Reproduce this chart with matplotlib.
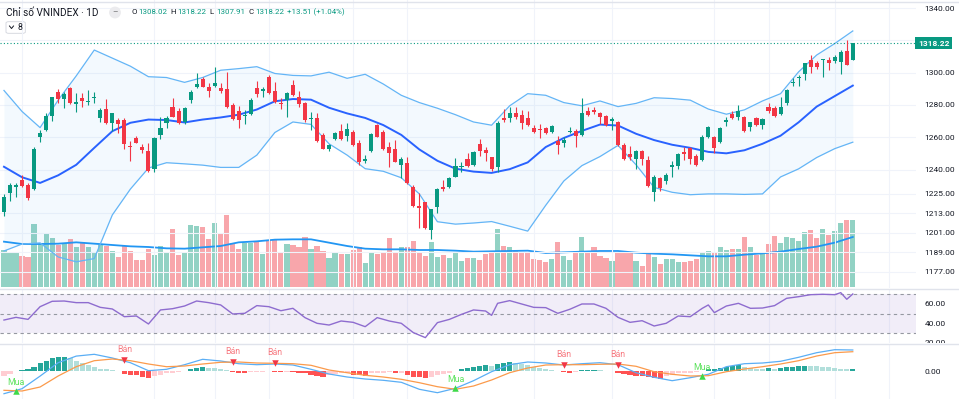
import matplotlib
matplotlib.use("Agg")
import matplotlib.pyplot as plt
from matplotlib.lines import Line2D
from matplotlib.patches import FancyBboxPatch
from matplotlib.transforms import Bbox, TransformedBbox

plt.rcParams['font.family'] = ['Roboto', 'DejaVu Sans']

# ---- du lieu doc tu bieu do (142 phien) ----
opens = [1214.0, 1225.4, 1229.4, 1233.6, 1230.5, 1227.9, 1260.0, 1264.6, 1273.4, 1288.3,
         1283.9, 1290.5, 1280.6, 1284.6, 1281.9, 1284.5, 1272.2, 1277.3, 1269.1, 1270.7,
         1270.7, 1254.9, 1259.4, 1254.3, 1251.8, 1240.2, 1261.7, 1268.7, 1279.0, 1276.3,
         1269.3, 1283.1, 1290.9, 1295.9, 1290.9, 1291.8, 1290.7, 1289.7, 1280.0, 1276.5,
         1273.2, 1274.5, 1290.7, 1288.5, 1297.5, 1288.5, 1281.0, 1283.1, 1292.4, 1285.2,
         1281.0, 1271.4, 1271.8, 1261.5, 1253.0, 1258.8, 1264.1, 1260.8, 1263.3, 1256.7,
         1245.2, 1251.8, 1267.4, 1263.5, 1254.3, 1252.6, 1242.9, 1243.9, 1229.5, 1217.5,
         1220.0, 1202.7, 1216.7, 1229.1, 1229.1, 1235.7, 1241.9, 1246.4, 1242.7, 1255.9,
         1252.2, 1247.6, 1241.9, 1271.8, 1272.2, 1275.3, 1273.8, 1271.8, 1266.0, 1265.2,
         1265.8, 1263.3, 1258.0, 1256.3, 1263.1, 1263.9, 1261.5, 1276.5, 1276.9, 1274.9,
         1273.2, 1270.3, 1269.7, 1255.5, 1249.7, 1246.4, 1251.4, 1246.0, 1226.4, 1234.9,
         1233.2, 1241.9, 1242.3, 1250.9, 1253.6, 1248.5, 1246.0, 1260.0, 1260.0, 1257.3,
         1269.5, 1274.4, 1272.8, 1272.8, 1266.2, 1271.8, 1267.6, 1278.6, 1277.9, 1274.4,
         1281.0, 1293.4, 1296.5, 1299.2, 1307.8, 1306.2, 1307.8, 1307.8, 1307.4, 1306.8,
         1313.6, 1308.02]
highs = [1225.0, 1232.0, 1232.0, 1236.5, 1231.6, 1253.8, 1264.6, 1274.9, 1285.2, 1289.7,
         1288.3, 1290.9, 1287.2, 1287.2, 1289.3, 1288.3, 1277.9, 1283.5, 1275.3, 1271.8,
         1271.8, 1257.5, 1260.8, 1255.9, 1256.3, 1260.0, 1272.8, 1273.2, 1284.1, 1277.9,
         1279.0, 1289.3, 1299.6, 1297.5, 1293.4, 1303.3, 1293.4, 1300.4, 1281.0, 1279.4,
         1276.9, 1284.1, 1295.1, 1290.9, 1298.6, 1294.4, 1284.1, 1288.3, 1295.5, 1288.9,
         1282.1, 1275.9, 1274.9, 1262.5, 1255.9, 1263.5, 1268.3, 1268.7, 1264.6, 1258.4,
         1249.1, 1262.5, 1268.3, 1264.6, 1257.3, 1258.4, 1247.6, 1247.6, 1230.5, 1225.4,
         1220.2, 1215.9, 1228.5, 1233.6, 1235.7, 1247.0, 1244.9, 1250.5, 1251.8, 1258.8,
         1254.3, 1248.1, 1270.3, 1277.3, 1278.6, 1278.6, 1276.9, 1276.5, 1267.6, 1268.3,
         1266.2, 1267.4, 1260.8, 1260.0, 1266.2, 1264.9, 1284.1, 1278.6, 1278.6, 1275.9,
         1273.6, 1272.8, 1270.3, 1256.3, 1254.7, 1252.2, 1252.2, 1248.5, 1236.7, 1235.7,
         1237.8, 1245.6, 1250.1, 1253.8, 1254.3, 1249.7, 1261.5, 1267.0, 1260.8, 1266.2,
         1272.8, 1276.5, 1280.0, 1273.2, 1269.7, 1272.4, 1271.8, 1281.5, 1279.4, 1284.8,
         1289.7, 1296.7, 1298.6, 1306.2, 1310.9, 1307.4, 1308.5, 1309.9, 1310.9, 1314.0,
         1320.2, 1318.22]
lows = [1211.6, 1220.8, 1222.9, 1229.5, 1221.3, 1227.4, 1257.3, 1264.1, 1270.3, 1281.5,
        1277.9, 1280.6, 1275.7, 1279.0, 1280.0, 1281.5, 1269.7, 1268.3, 1264.1, 1262.9,
        1252.6, 1245.4, 1256.3, 1250.1, 1238.8, 1238.8, 1258.8, 1266.0, 1272.4, 1268.3,
        1268.3, 1281.5, 1290.3, 1290.9, 1285.2, 1291.3, 1287.2, 1277.9, 1270.7, 1265.6,
        1268.3, 1273.8, 1285.2, 1285.2, 1286.8, 1281.5, 1277.3, 1272.8, 1285.6, 1279.0,
        1269.7, 1264.6, 1257.3, 1252.6, 1251.8, 1258.4, 1258.4, 1258.0, 1254.7, 1242.9,
        1244.4, 1251.2, 1260.0, 1252.2, 1241.9, 1244.6, 1234.7, 1231.2, 1217.1, 1203.7,
        1203.3, 1196.9, 1213.4, 1226.6, 1228.7, 1235.3, 1238.8, 1241.9, 1242.3, 1248.5,
        1245.4, 1239.4, 1238.8, 1269.7, 1269.7, 1271.1, 1265.4, 1267.0, 1262.5, 1259.4,
        1262.1, 1262.9, 1249.7, 1254.3, 1262.5, 1254.3, 1260.8, 1273.2, 1274.4, 1268.3,
        1267.0, 1264.6, 1254.9, 1246.0, 1246.0, 1240.2, 1242.9, 1229.5, 1220.8, 1227.0,
        1231.2, 1235.7, 1240.2, 1246.0, 1243.5, 1242.3, 1245.6, 1259.4, 1250.5, 1256.7,
        1267.0, 1271.2, 1270.7, 1263.5, 1264.1, 1267.0, 1265.0, 1275.3, 1272.8, 1273.8,
        1280.0, 1291.8, 1291.8, 1295.5, 1299.6, 1302.1, 1297.5, 1301.7, 1305.8, 1299.2,
        1304.7, 1307.91]
closes = [1223.3, 1230.5, 1230.3, 1229.9, 1222.7, 1252.6, 1262.5, 1273.2, 1284.8, 1283.5,
          1286.8, 1281.0, 1281.9, 1282.5, 1282.7, 1285.2, 1276.9, 1269.1, 1274.9, 1268.3,
          1255.7, 1253.8, 1256.7, 1252.2, 1239.4, 1259.8, 1266.0, 1272.2, 1272.8, 1269.1,
          1277.9, 1288.3, 1292.8, 1291.3, 1288.9, 1293.4, 1288.4, 1279.0, 1271.1, 1270.7,
          1274.0, 1283.1, 1286.8, 1289.7, 1287.2, 1282.1, 1280.6, 1287.6, 1286.2, 1280.6,
          1270.7, 1272.2, 1258.0, 1253.0, 1255.5, 1262.9, 1259.2, 1265.4, 1255.3, 1245.0,
          1246.4, 1262.1, 1260.4, 1252.8, 1250.5, 1245.0, 1246.4, 1231.6, 1217.5, 1216.1,
          1203.7, 1215.5, 1227.9, 1228.3, 1235.0, 1242.3, 1242.5, 1242.3, 1250.9, 1251.8,
          1250.5, 1240.2, 1268.7, 1270.7, 1275.3, 1272.8, 1269.1, 1267.6, 1263.3, 1264.6,
          1262.5, 1267.0, 1255.3, 1258.4, 1263.7, 1260.8, 1274.9, 1273.8, 1275.9, 1272.8,
          1267.6, 1271.1, 1255.3, 1246.4, 1247.6, 1251.8, 1246.4, 1229.9, 1235.7, 1228.5,
          1236.5, 1242.7, 1249.7, 1249.7, 1246.4, 1242.9, 1260.4, 1266.2, 1253.2, 1265.6,
          1270.7, 1272.0, 1276.5, 1264.1, 1269.3, 1267.6, 1271.1, 1276.5, 1273.4, 1279.0,
          1289.3, 1294.2, 1297.5, 1305.8, 1303.7, 1303.7, 1308.5, 1306.2, 1309.9, 1313.0,
          1304.71, 1318.22]
# khoi luong (trieu cp)
volumes = [550, 510, 500, 460, 450, 940, 650, 790, 725, 625,
           650, 710, 600, 650, 590, 525, 625, 610, 530, 450,
           610, 540, 400, 400, 565, 475, 610, 500, 865, 475,
           510, 930, 910, 900, 710, 950, 790, 1070, 650, 560,
           660, 660, 690, 490, 700, 710, 510, 640, 625, 590,
           750, 560, 610, 540, 425, 510, 490, 490, 550, 600,
           350, 525, 490, 525, 725, 525, 600, 590, 690, 525,
           460, 675, 450, 475, 425, 525, 385, 435, 425, 400,
           490, 510, 860, 610, 600, 535, 525, 500, 410, 400,
           375, 410, 675, 460, 400, 540, 740, 510, 600, 460,
           425, 390, 525, 535, 510, 385, 310, 490, 450, 340,
           410, 420, 375, 375, 390, 420, 520, 540, 525, 600,
           550, 560, 560, 750, 590, 475, 490, 635, 760, 650,
           750, 735, 690, 825, 850, 735, 860, 775, 830, 950,
           1000, 1000]
macd_hist = [-2.33, -1.33, 0.33, 0.67, 1.0, 2.33, 4.0, 5.33, 6.5, 7.0,
             7.17, 6.5, 5.33, 4.33, 3.17, 2.0, 1.33, 1.0, 0.5, 0.17,
             -1.33, -1.67, -2.0, -2.67, -3.5, -2.33, -1.67, -1.0, -0.67, -0.33,
             0.17, 1.0, 1.67, 2.0, 1.83, 1.67, 1.33, 0.67, -0.5, -0.67,
             -1.0, -0.5, -0.33, -0.17, 0.33, -0.33, -0.5, -0.17, -0.33, -0.67,
             -0.83, -1.67, -2.33, -2.83, -2.0, -1.33, -1.0, -0.83, -1.83, -2.0,
             -2.17, -1.0, -0.83, -0.67, -0.5, -1.0, -0.67, -1.83, -2.67, -3.0,
             -3.5, -2.67, -2.0, -1.33, -0.67, 0.33, 1.0, 1.5, 2.0, 2.83,
             3.17, 2.67, 3.67, 4.0, 4.5, 4.33, 3.67, 3.17, 2.33, 1.5,
             1.0, 0.5, 0.17, -0.5, -0.67, -0.33, 0.5, 0.67, 0.83, 0.5,
             0.33, 0.17, -0.67, -1.33, -1.83, -2.17, -2.33, -3.0, -3.5, -3.83,
             -2.33, -1.67, -1.0, -0.83, -0.67, -0.33, 0.33, 1.0, 1.33, 1.67,
             2.0, 2.5, 3.0, 2.33, 1.67, 1.33, 1.17, 1.5, 1.17, 1.5,
             2.0, 2.33, 2.67, 2.83, 2.67, 2.5, 2.33, 2.0, 1.67, 1.33,
             1.0, 1.33]

# cac duong chi bao, doc moi 3 phien
band_idx = list(range(0, 142, 3))
bb_upper = [1289, 1276, 1266, 1283, 1298, 1314, 1309, 1304, 1297.5, 1297,
            1294, 1297, 1301.5, 1302.5, 1303.7, 1299.5, 1298.3, 1298, 1300.3, 1296.5,
            1299, 1293, 1286, 1281.5, 1278, 1274, 1269.5, 1267.5, 1279.5, 1287,
            1286, 1281.5, 1279.5, 1282.5, 1279, 1281, 1284.5, 1284, 1283, 1277.5,
            1274.3, 1277, 1282.5, 1287, 1300.5, 1310.9, 1318, 1325.8]
bb_mid = [1241.8, 1235.3, 1231.8, 1236.5, 1243, 1253.5, 1263.8, 1269, 1271, 1270.7,
          1269.2, 1271, 1272.3, 1274, 1277.2, 1282.3, 1283.7, 1283.3, 1278.3, 1274.8,
          1272, 1267.6, 1261.5, 1252.5, 1245.5, 1240.6, 1238.8, 1238, 1240.3, 1244.5,
          1254, 1259.6, 1264, 1267.9, 1267.3, 1262.2, 1258.3, 1255.4, 1253.5, 1251,
          1250.1, 1252, 1256, 1261, 1269.3, 1279, 1285.5, 1292]
bb_lower = [1189.7, 1194, 1194.7, 1186, 1183, 1185, 1212, 1228, 1241, 1244.3,
            1243.6, 1242.8, 1241.4, 1241.4, 1249, 1263, 1269.5, 1268, 1256, 1249,
            1240.6, 1239, 1235, 1225, 1207.8, 1206.3, 1207, 1207.9, 1205, 1202,
            1218, 1233, 1242.5, 1248.1, 1255, 1243, 1229, 1226, 1224.5, 1225,
            1225, 1224.7, 1225, 1235.5, 1240.5, 1247.5, 1253, 1257]
vol_ma = [675, 640, 640, 645, 665, 645, 625, 605, 595, 575,
          570, 590, 610, 665, 680, 705, 710, 710, 660, 610,
          570, 560, 560, 550, 550, 540, 525, 530, 535, 540,
          505, 515, 525, 535, 535, 510, 495, 485, 470, 455,
          455, 480, 500, 525, 565, 600, 660, 745]
macd_line = [-11.2, -8.7, -2.4, 4.3, 7.6, 8.5, 6.65, 4.3, 0.3, 1.0,
             3.3, 6.0, 5.15, 3.8, 3.3, 3.65, 3.15, 1.0, -1.35, -2.85,
             -3.85, -4.5, -5.5, -9.0, -10.7, -8.5, -4.7, -0.2, 3.3, 4.65,
             4.15, 3.15, 3.8, 4.3, 3.3, -0.7, -3.0, -4.7, -3.2, -1.5,
             2.3, 3.8, 4.15, 5.0, 7.0, 9.3, 10.8, 10.65]
signal_line = [-9.5, -9.85, -7.85, -2.35, 2.3, 5.3, 6.15, 5.3, 3.65, 2.3,
               2.65, 3.65, 4.5, 4.65, 4.15, 4.0, 3.8, 3.0, 0.65, -0.7,
               -2.0, -2.85, -4.0, -5.7, -7.7, -9.0, -7.35, -4.35, -0.7, 1.65,
               3.15, 3.3, 3.3, 3.5, 3.65, 2.5, -0.2, -1.5, -2.35, -2.2,
               -0.2, 1.15, 2.3, 3.65, 5.3, 7.65, 9.3, 9.8]

rsi_idx = [0, 2, 4, 6, 8, 10, 12, 14, 16, 18, 20, 22, 24, 26, 28, 30, 32, 34, 36, 38,
           40, 42, 44, 46, 48, 50, 52, 54, 56, 58, 60, 62, 64, 66, 68, 70, 72, 74, 76, 78,
           80, 81, 82, 84, 86, 88, 90, 92, 94, 96, 98, 100, 102, 104, 106, 108, 110, 112,
           114, 116, 117, 118, 120, 122, 124, 126, 128, 130, 132, 134, 136, 138, 139, 140, 141]
rsi_vals = [43.3, 46.1, 44.0, 57.2, 62.8, 63.1, 61.4, 61.4, 56.5, 54.8, 46.8, 47.5, 39.2,
            53.8, 55.1, 57.9, 63.1, 61.4, 59.0, 49.6, 50.3, 58.3, 57.2, 53.0, 55.5, 45.8,
            39.9, 38.1, 42.3, 40.9, 36.4, 45.8, 42.3, 39.9, 30.2, 25.0, 40.6, 44.0, 49.2,
            53.8, 52.7, 48.2, 60.7, 63.5, 60.0, 56.5, 56.2, 50.3, 54.5, 60.0, 60.0, 55.5,
            46.1, 40.9, 42.6, 37.1, 39.9, 47.5, 46.8, 55.5, 59.0, 51.0, 57.9, 60.7, 55.5,
            55.8, 58.3, 65.9, 67.6, 69.7, 70.1, 69.7, 71.8, 64.9, 70.4]

sell_idx = [20, 38, 45, 93, 102]
sell_vals = [5.65, 4.8, 4.0, 3.15, 3.15]
buy_idx = [2, 75, 116]
buy_vals = [-9.7, -8.5, -2.2]

month_starts = [3, 25, 35, 44, 58, 67, 88, 101, 118, 127, 138, 147]
price_ticks = [1177, 1189, 1201, 1213, 1225, 1240, 1260, 1280, 1300, 1340]
grid_levels = price_ticks + [1320]
last_price = closes[-1]

# ---- mau ----
UP, DOWN = '#089981', '#f23645'
VOL_UP, VOL_DOWN = '#92d2c4', '#f8a6ab'
GRID = '#f0f3fa'
TXT = '#131722'

W, H = 959, 399
def fx(px):
    return px / W
def fy(py):
    return 1 - py / H

fig = plt.figure(figsize=(W / 100, H / 100), dpi=100)
ax = fig.add_axes([0, fy(288), fx(916), 288 / H])
ax_rsi = fig.add_axes([0, fy(343), fx(916), 54 / H])
ax_macd = fig.add_axes([0, 0, fx(916), 55 / H])
ax_vol = ax.twinx()
ax.set_zorder(ax_vol.get_zorder() + 1)
ax.patch.set_visible(False)

n = len(closes)
idx = list(range(n))
xlim = (-0.66, 151.5)

for a in (ax, ax_rsi, ax_macd, ax_vol):
    for s in a.spines.values():
        s.set_visible(False)
    a.set_xlim(*xlim)
    a.set_xticks([])

# ---- volume ----
vol_cols = [VOL_UP if c >= o else VOL_DOWN for o, c in zip(opens, closes)]
ax_vol.bar(idx, volumes, width=0.86, color=vol_cols, linewidth=0)
ax_vol.plot(band_idx, vol_ma, color='#2196f3', lw=1.3)
ax_vol.set_ylim(-20, 4300)
ax_vol.set_yticks([])

# ---- gia ----
for m in month_starts:
    ax.axvline(m, color=GRID, lw=0.8, zorder=0)
for t in grid_levels:
    ax.axhline(t, color=GRID, lw=0.8, zorder=0)

ax.fill_between(band_idx, bb_lower, bb_upper, color='#2196f3', alpha=0.05, lw=0)
ax.plot(band_idx, bb_upper, color='#64b5f6', lw=0.9)
ax.plot(band_idx, bb_lower, color='#64b5f6', lw=0.9)
ax.plot(band_idx, bb_mid, color='#2962ff', lw=1.4)

cols = [UP if c >= o else DOWN for o, c in zip(opens, closes)]
ax.vlines(idx, lows, highs, colors=cols, lw=0.8, zorder=3)
bottoms = [min(o, c) for o, c in zip(opens, closes)]
heights = [max(abs(c - o), 0.35) for o, c in zip(opens, closes)]
ax.bar(idx, heights, bottom=bottoms, width=0.68, color=cols, linewidth=0, zorder=4)

ax.axhline(last_price, color=UP, lw=0.8, ls=(0, (1, 2)), zorder=2)
ax.set_ylim(1166.8, 1344.95)
ax.yaxis.tick_right()
ax.set_yticks(price_ticks)
ax.set_yticklabels(['%.2f' % t for t in price_ticks])
ax.tick_params(axis='y', length=0, pad=6, labelsize=6, colors=TXT)
ax.text(1.002, last_price, '%.2f' % last_price, transform=ax.get_yaxis_transform(),
        ha='left', va='center', fontsize=6, color='white', fontweight='bold',
        bbox=dict(boxstyle='square,pad=0.3', fc=UP, ec='none'), zorder=10, clip_on=False)

# ---- RSI ----
for m in month_starts:
    ax_rsi.axvline(m, color=GRID, lw=0.8, zorder=0)
ax_rsi.axhspan(30, 70, color='#7e57c2', alpha=0.1, lw=0)
for lv in (70, 50, 30):
    ax_rsi.axhline(lv, color='#9598a1', lw=0.8, ls=(0, (3, 3)))
ax_rsi.plot(rsi_idx, rsi_vals, color='#8e6ccf', lw=1.0)
ax_rsi.set_ylim(19.4, 75.6)
ax_rsi.yaxis.tick_right()
ax_rsi.set_yticks([20, 40, 60])
ax_rsi.set_yticklabels(['20.00', '40.00', '60.00'])
ax_rsi.tick_params(axis='y', length=0, pad=6, labelsize=6, colors=TXT)
clip = TransformedBbox(Bbox([[fx(900), fy(343)], [1, fy(289)]]), fig.transFigure)
for tk in ax_rsi.yaxis.get_major_ticks():
    tk.label2.set_clip_box(clip)
    tk.label2.set_clip_on(True)

# ---- MACD ----
for m in month_starts:
    ax_macd.axvline(m, color=GRID, lw=0.8, zorder=0)
hist_cols = []
prev = -99
for h in macd_hist:
    if h >= 0:
        hist_cols.append('#26a69a' if h > prev else '#b2dfdb')
    else:
        hist_cols.append('#ffcdd2' if h > prev else '#ff5252')
    prev = h
ax_macd.bar(idx, macd_hist, width=0.86, color=hist_cols, linewidth=0)
ax_macd.plot(band_idx, macd_line, color='#5aaef5', lw=0.9)
ax_macd.plot(band_idx, signal_line, color='#fb9a4b', lw=0.9)
ax_macd.scatter(sell_idx, sell_vals, marker='v', s=22, color=DOWN, zorder=5, lw=0)
for i, v in zip(sell_idx, sell_vals):
    ax_macd.annotate('Bán', (i, v), xytext=(0, 7.5), textcoords='offset points',
                     ha='center', va='center', fontsize=6.3, color='#f77b82')
ax_macd.scatter(buy_idx, buy_vals, marker='^', s=22, color='#3fd94a', zorder=5, lw=0)
for i, v in zip(buy_idx, buy_vals):
    ax_macd.annotate('Mua', (i, v), xytext=(0, 6), textcoords='offset points',
                     ha='center', va='center', fontsize=6.3, color='#5fe35f')
ax_macd.set_ylim(-13.85, 13.65)
ax_macd.yaxis.tick_right()
ax_macd.set_yticks([0])
ax_macd.set_yticklabels(['0.00'])
ax_macd.tick_params(axis='y', length=0, pad=6, labelsize=6, colors=TXT)

# ---- duong phan cach ----
for py in (1.5, 288.5, 343.5):
    fig.add_artist(Line2D([0, 1], [fy(py), fy(py)], color='#e0e3eb', lw=1.0))

# ---- tieu de ----
fig.text(fx(6), fy(12.5), 'Chỉ số VNINDEX · 1D', fontsize=7.2, color=TXT, va='center')
fig.text(fx(115), fy(12.5), '–', fontsize=6, color='#555', ha='center', va='center',
         bbox=dict(boxstyle='circle,pad=0.35', fc='#ebebee', ec='none'))
ohlc = [('O', '1308.02', 131.7, 138.3), ('H', '1318.22', 170.7, 177.7),
        ('L', '1307.91', 209.3, 216.0), ('C', '1318.22', 248.3, 255.0)]
for lab, val, xl, xv in ohlc:
    fig.text(fx(xl), fy(12.5), lab, fontsize=5.7, color=TXT, va='center')
    fig.text(fx(xv), fy(12.5), val, fontsize=5.7, color=UP, va='center')
fig.text(fx(287.3), fy(12.5), '+13.51 (+1.04%)', fontsize=5.7, color=UP, va='center')

fig.add_artist(FancyBboxPatch((fx(6), fy(33.3)), fx(19.3), 11.6 / H,
                              boxstyle='round,pad=0,rounding_size=0.003',
                              transform=fig.transFigure, fc='white', ec='#d1d4dc', lw=0.6))
fig.add_artist(Line2D([fx(9.5), fx(11.5), fx(13.5)], [fy(26), fy(28.5), fy(26)],
                      color=TXT, lw=0.7))
fig.text(fx(17), fy(27.5), '8', fontsize=6.3, color=TXT, va='center')

fig.savefig('out.png', dpi=100, facecolor='white')
